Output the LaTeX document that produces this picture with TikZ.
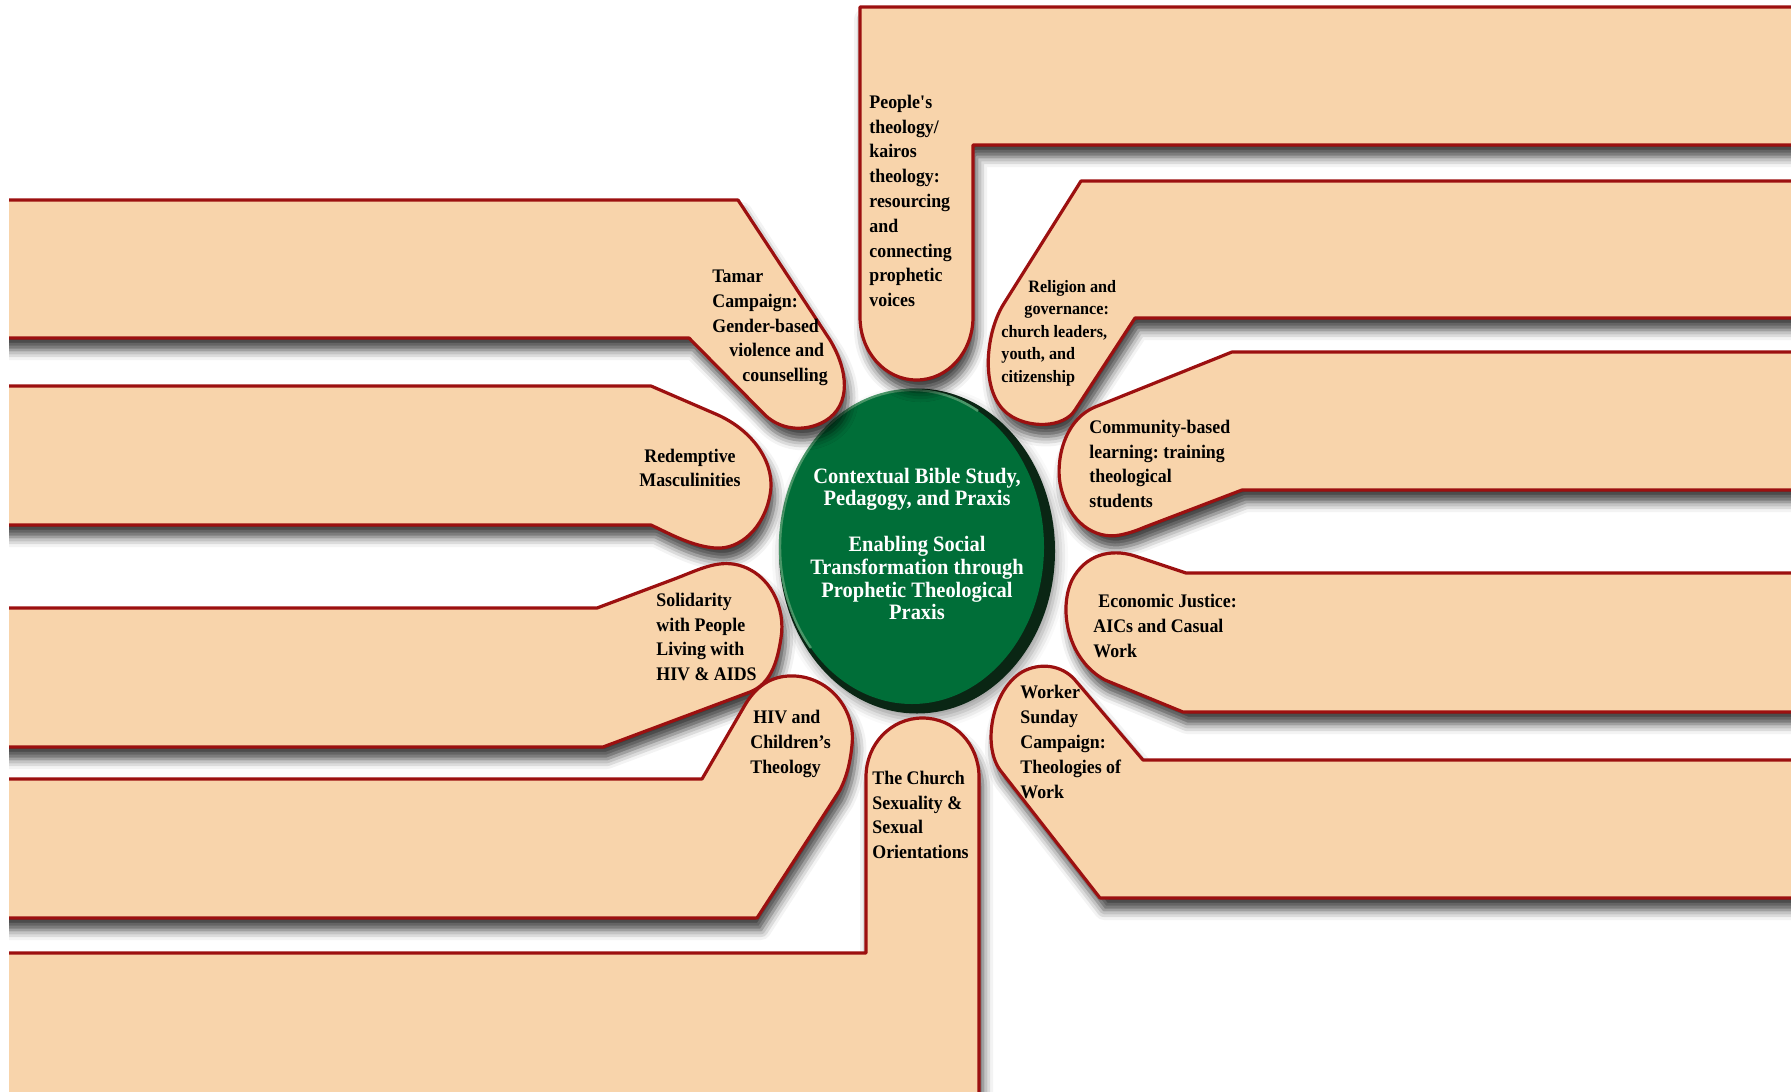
\documentclass[tikz,border=0pt]{standalone}
\usepackage{fontspec}
\setmainfont{Liberation Serif}[FakeStretch=0.93]
\usepackage{tikz}
\usetikzlibrary{shadows.blur}
\definecolor{peach}{RGB}{248,212,171}
\definecolor{rim}{RGB}{156,16,16}
\definecolor{hubgreen}{RGB}{0,110,56}
\definecolor{hubdark}{RGB}{10,38,20}
\definecolor{hublight}{RGB}{74,150,104}
\frenchspacing

\begin{document}
\begin{tikzpicture}[x=0.5pt,y=-0.5pt,
    petal/.style={fill=peach,draw=rim,line width=1.6pt,line join=round,
        blur shadow={shadow xshift=2pt,shadow yshift=-6pt,shadow blur radius=5pt,shadow opacity=75}},
    lbl/.style={inner sep=0pt,anchor=west,align=left,text=black,
        font=\fontsize{9.6}{12.4}\selectfont\bfseries},
    hub/.style={inner sep=0pt,align=center,text=white,
        font=\fontsize{11}{11.4}\selectfont\bfseries}]
    \useasboundingbox (0,0) rectangle (1791,1091);
    \fill[hubdark,blur shadow={shadow xshift=1.5pt,shadow yshift=-3pt,shadow blur radius=5pt,shadow opacity=40}] (917,551) ellipse [x radius=138, y radius=162.5];
    \fill[hubgreen] (912,547) ellipse [x radius=132, y radius=157];
    \draw[hublight,line width=1.2pt] (810.9,647.9) arc [start angle=140, end angle=300, x radius=132, y radius=157];
    \begin{scope}
        \clip (9,0) rectangle (1791,1091);
        \path[petal] (1810,7) -- (860,7) -- (860,317) .. controls (860,352) and (885,380) .. (916.5,380) .. controls (948,380) and (973,352) .. (973,317) -- (973,145) -- (1810,145) -- cycle;
        \path[petal] (1810,181) -- (1081,181) -- (1003,305) .. controls (985,335) and (980,393) .. (1008,414) .. controls (1028,429) and (1064,428) .. (1075,410) -- (1135,318) -- (1810,318) -- cycle;
        \path[petal] (-10,200) -- (738,200) -- (830,340) .. controls (848,370) and (852,405) .. (825,421) .. controls (808,431) and (783,432) .. (765,415) -- (689,338) -- (-10,338) -- cycle;
        \path[petal] (1810,352) -- (1232,352) -- (1095,407) .. controls (1062,421) and (1055,465) .. (1061,488) .. controls (1069,522) and (1095,540) .. (1120,535) .. controls (1130,533) and (1138,530) .. (1145,527) -- (1242,490) -- (1810,490) -- cycle;
        \path[petal] (-10,386) -- (651,386) -- (718,415) .. controls (755,432) and (776,465) .. (770,495) .. controls (764,528) and (740,550) .. (715,548) .. controls (692,546) and (672,535) .. (651,525) -- (-10,525) -- cycle;
        \path[petal] (1810,573) -- (1186,573) -- (1135,556) .. controls (1110,548) and (1085,555) .. (1072,580) .. controls (1058,610) and (1068,660) .. (1105,680) -- (1183,712) -- (1810,712) -- cycle;
        \path[petal] (-10,608) -- (597,608) -- (677,578) .. controls (700,569) and (718,560) .. (738,565) .. controls (770,573) and (786,608) .. (781,638) .. controls (777,664) and (770,684) .. (750,692) -- (603,747) -- (-10,747) -- cycle;
        \path[petal] (1810,760) -- (1143,760) -- (1075,680) .. controls (1062,665) and (1040,662) .. (1022,672) .. controls (992,690) and (982,745) .. (1000,770) -- (1100,898) -- (1810,898) -- cycle;
        \path[petal] (-10,779) -- (702,779) -- (745,705) .. controls (758,683) and (775,675) .. (795,676) .. controls (830,678) and (856,710) .. (852,745) .. controls (850,765) and (846,778) .. (840,790) -- (757,918) -- (-10,918) -- cycle;
        \path[petal] (-10,953) -- (866,953) -- (866,777) .. controls (866,744) and (891,718) .. (922.5,718) .. controls (954,718) and (979,744) .. (979,777) -- (979,1110) -- (-10,1110) -- cycle;
    \end{scope}

    \node[hub] (core) at (917,544) {Contextual Bible Study,\\Pedagogy, and Praxis\\[11.4pt]Enabling Social\\Transformation through\\Prophetic Theological\\Praxis};
    \node[lbl] (peoples) at (869,201) {People\textquotesingle s\\theology/\\kairos\\theology:\\resourcing\\and\\connecting\\prophetic\\voices};
    \node[lbl,font=\fontsize{8.7}{11.25}\selectfont\bfseries] (religion) at (1001,333) {\hspace*{13.5pt}Religion and\\\hspace*{11.5pt}governance:\\church leaders,\\youth, and\\citizenship};
    \node[lbl] (tamar) at (712,328) {Tamar\\Campaign:\\Gender-based\\\hspace*{8.5pt}violence and\\\hspace*{15pt}counselling};
    \node[lbl] (community) at (1089,464) {Community-based\\learning: training\\theological\\students};
    \node[lbl,anchor=center,align=center] (redemptive) at (690,468) {Redemptive\\Masculinities};
    \node[lbl] (economic) at (1093,626) {\hspace*{2.5pt}Economic Justice:\\AICs and Casual\\Work};
    \node[lbl] (solidarity) at (656,637) {Solidarity\\with People\\Living with\\HIV \& AIDS};
    \node[lbl] (worker) at (1020,742) {Worker\\Sunday\\Campaign:\\Theologies of\\Work};
    \node[lbl] (children) at (750,744) {\hspace*{1.5pt}HIV and\\Children’s\\Theology};
    \node[lbl] (church) at (872,815) {The Church\\Sexuality \&\\Sexual\\Orientations};
\end{tikzpicture}
\end{document}
